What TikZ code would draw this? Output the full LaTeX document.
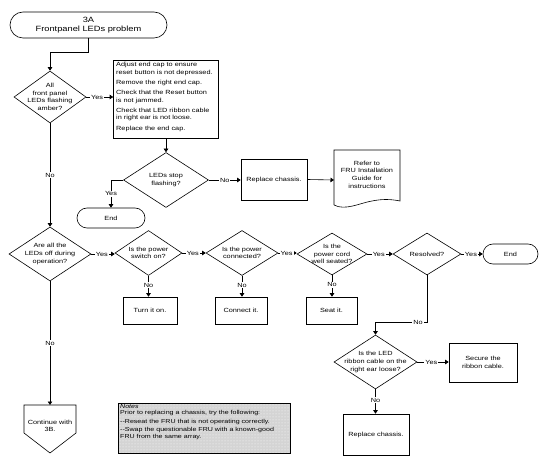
\documentclass[tikz,border=0pt]{standalone}
\usepackage{fontspec}
\setmainfont{Liberation Sans}[FakeStretch=1.22]
\usetikzlibrary{shapes.geometric,arrows.meta,patterns}
\begin{document}
\begin{tikzpicture}[x=1pt,y=-1pt,
  every node/.style={font=\fontsize{6}{7.6}\selectfont},
  ln/.style={line width=0.6pt},
  arr/.style={ln,-{Triangle[width=4.5pt,length=3.5pt]}},
  proc/.style={draw,ln,inner sep=1pt,align=center},
  dia/.style={draw,ln,diamond,inner sep=0pt},
  term/.style={draw,ln,inner sep=1pt,align=center},
  lab/.style={fill=white,inner sep=1pt},
  txt/.style={align=center,inner sep=0pt}]
\useasboundingbox (0,0) rectangle (549,462);
% start terminator
\node[term,minimum width=157pt,minimum height=26pt,rounded corners=13pt,
  font=\fontsize{7.6}{9}\selectfont] (start) at (88.5,25) {3A\\Frontpanel LEDs problem};
% diamond 1
\node[dia,minimum width=72pt,minimum height=52pt,
  label={[txt]center:{All\\front panel\\LEDs flashing\\amber?}}] (d1) at (50,97) {};
% box 1
\node[proc,minimum width=105pt,minimum height=78pt] (box1) at (166,99) {};
\node[anchor=north west,align=left,inner sep=0pt] (box1t) at (116,62)
 {Adjust end cap to ensure\\reset button is not depressed.\\[2.6pt]
  Remove the right end cap.\\[2.6pt]
  Check that the Reset button\\is not jammed.\\[2.6pt]
  Check that LED ribbon cable\\in right ear is not loose.\\[2.6pt]
  Replace the end cap.};
% diamond 2
\node[dia,minimum width=85pt,minimum height=55pt,
  label={[txt]center:{LEDs stop\\flashing?}}] (d2) at (166,180) {};
% end 1
\node[term,minimum width=68pt,minimum height=20pt,rounded corners=10pt] (end1) at (111,218) {End};
% replace chassis 1
\node[proc,minimum width=66pt,minimum height=41pt] (rc1) at (274,179.5) {Replace chassis.};
% document
\node[txt] (doc) at (367,174.5) {Refer to\\FRU Installation\\Guide for\\instructions};
\draw[ln] (334,205) -- (334,150) coordinate (docnw) -- (400,150) -- (400,201)
  .. controls (390,199) and (382,199) .. (372,201)
  .. controls (360,203) and (345,211) .. (334,205);
\coordinate (docw) at (334,180);
% row of diamonds
\node[dia,minimum width=82pt,minimum height=54pt,
  label={[txt]center:{Are all the\\LEDs off during\\operation?}}] (d3) at (50,254) {};
\node[dia,minimum width=67pt,minimum height=45pt,
  label={[txt]center:{Is the power\\switch on?}}] (d4) at (148.5,253) {};
\node[dia,minimum width=72pt,minimum height=45pt,
  label={[txt]center:{Is the power\\connected?}}] (d5) at (242,253) {};
\node[dia,minimum width=70pt,minimum height=42pt,
  label={[txt]center:{Is the\\power cord\\well seated?}}] (d6) at (332,254) {};
\node[dia,minimum width=68pt,minimum height=42pt,
  label={[txt]center:{Resolved?}}] (d7) at (427,254) {};
\node[term,minimum width=55pt,minimum height=20pt,rounded corners=10pt] (end2) at (510.5,254) {End};
% action boxes
\node[proc,minimum width=54pt,minimum height=27pt] (turn) at (150,310.5) {Turn it on.};
\node[proc,minimum width=52pt,minimum height=27pt] (conn) at (241,310.5) {Connect it.};
\node[proc,minimum width=51pt,minimum height=27pt] (seat) at (331.5,310.5) {Seat it.};
% diamond 8
\node[dia,minimum width=83pt,minimum height=54pt,
  label={[txt]center:{Is the LED\\ribbon cable on the\\right ear loose?}}] (d8) at (375.5,362) {};
\node[proc,minimum width=68pt,minimum height=39pt] (secure) at (483,362.5) {Secure the\\ribbon cable.};
\node[proc,minimum width=66pt,minimum height=41pt] (rc2) at (376,434.5) {Replace chassis.};
% off-page connector
\node[txt] (cont) at (50,426) {Continue with\\3B.};
\draw[ln] (24,433) -- (24,405) coordinate (conttl) -- (76,405) -- (76,433) -- (50,453) -- cycle;
\coordinate (conttop) at (50,405);
% notes
\node[draw,ln,minimum width=172pt,minimum height=50pt,preaction={fill=black!17},
  pattern=dots,pattern color=white] (notes) at (204,428) {};
\node[anchor=north west,align=left,inner sep=0pt,font=\fontsize{5.8}{6.6}\selectfont] (notest) at (120,404)
 {{\itshape Notes}\\Prior to replacing a chassis, try the following:\\[2pt]
  {-}{-}Reseat the FRU that is not operating correctly.\\[2pt]
  {-}{-}Swap the questionable FRU with a known-good\\FRU from the same array.};
% connectors
\draw[arr] (start.south) -- (start.south |- 0,52) -| (d1.north);
\draw[arr] (d1.east) -- (d1.east -| box1.west) node[lab,pos=0.4] {Yes};
\draw[arr] (box1.south) -- (d2.north);
\draw[arr] (d2.west) -| (end1.north) node[lab,pos=0.75] {Yes};
\draw[arr] (d2.east) -- (d2.east -| rc1.west) node[lab,pos=0.5] {No};
\draw[arr] (rc1.east) -- (docw);
\draw[arr] (d1.south) -- (d3.north) node[lab,pos=0.5] {No};
\draw[arr] (d3.east) -- (d3.east -| d4.west) node[lab,pos=0.45] {Yes};
\draw[arr] (d4.east) -- (d4.east -| d5.west) node[lab,pos=0.45] {Yes};
\draw[arr] (d5.east) -- (d5.east -| d6.west) node[lab,pos=0.45] {Yes};
\draw[arr] (d6.east) -- (d6.east -| d7.west) node[lab,pos=0.45] {Yes};
\draw[arr] (d7.east) -- (end2.west) node[lab,pos=0.45] {Yes};
\draw[arr] (d4.south) -- (d4.south |- turn.north) node[lab,pos=0.45] {No};
\draw[arr] (d5.south) -- (d5.south |- conn.north) node[lab,pos=0.45] {No};
\draw[arr] (d6.south) -- (d6.south |- seat.north) node[lab,pos=0.45] {No};
\draw[arr] (d7.south) -- (d7.south |- 0,322) coordinate (k7) -| (d8.north);
\node[lab] (no7) at (418,322) {No};
\draw[arr] (d8.east) -- (d8.east -| secure.west) node[lab,pos=0.45] {Yes};
\draw[arr] (d8.south) -- (d8.south |- rc2.north) node[lab,pos=0.45] {No};
\draw[arr] (d3.south) -- (conttop) node[lab,pos=0.5] {No};
\end{tikzpicture}
\end{document}
